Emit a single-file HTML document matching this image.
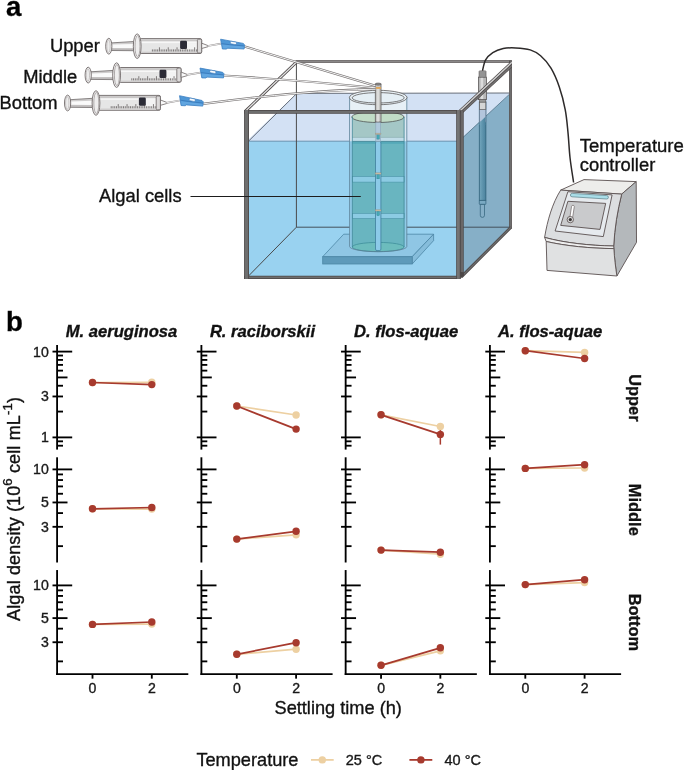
<!DOCTYPE html>
<html lang="en">
<head>
<meta charset="utf-8">
<title>Algal settling experiment</title>
<style>
html,body{margin:0;padding:0;background:#fff;}
body{width:685px;height:770px;overflow:hidden;font-family:'Liberation Sans', sans-serif;}
svg{display:block;}
svg text{font-family:'Liberation Sans', sans-serif;stroke:#151515;stroke-width:0.35px;}
</style>
</head>
<body>
<svg width="685" height="770" viewBox="0 0 685 770">
<rect x="0" y="0" width="685" height="770" fill="#ffffff"/>
<g id="panel-a">
<rect x="246.5" y="141.2" width="212" height="136" fill="#99D2F0"/>
<polygon points="296.4,93.6 509.5,93.0 509.5,94.4 461.0,139.6 459.0,141.2 246.5,141.2" fill="#D3E1F4"/>
<polygon points="460.5,139.6 509.6,94.2 509.6,227.6 460.5,277.0" fill="#86AFC7"/>
<line x1="248" y1="141.2" x2="457" y2="141.2" stroke="#4d7fa0" stroke-width="0.8"/>
<line x1="296.4" y1="93.4" x2="509" y2="93.0" stroke="#59606b" stroke-width="0.9"/>
<line x1="461" y1="139.3" x2="509.3" y2="94.4" stroke="#4f7186" stroke-width="0.8"/>
<line x1="248.5" y1="141.2" x2="296.4" y2="93.8" stroke="#59606b" stroke-width="0.9"/>
<line x1="296.4" y1="62" x2="296.4" y2="227.2" stroke="#4a4a4a" stroke-width="1"/>
<line x1="296.4" y1="227.2" x2="509" y2="227.2" stroke="#44525c" stroke-width="1"/>
<line x1="296.4" y1="227.2" x2="248" y2="276.5" stroke="#4a4a4a" stroke-width="1"/>
<line x1="295.5" y1="61.5" x2="511.8" y2="61.5" stroke="#4b4646" stroke-width="2.7" stroke-linecap="butt"/>
<line x1="295.5" y1="61.5" x2="511.8" y2="61.5" stroke="#8a8888" stroke-width="1.2" stroke-linecap="butt"/>
<line x1="245.2" y1="111.4" x2="296.6" y2="62.0" stroke="#4b4646" stroke-width="3.0" stroke-linecap="butt"/>
<line x1="245.2" y1="111.4" x2="296.6" y2="62.0" stroke="#e4e4e4" stroke-width="1.3" stroke-linecap="butt"/>
<line x1="510.5" y1="60.6" x2="510.5" y2="228.5" stroke="#4b4646" stroke-width="2.7" stroke-linecap="butt"/>
<line x1="510.5" y1="60.6" x2="510.5" y2="228.5" stroke="#6e6e6e" stroke-width="1.2" stroke-linecap="butt"/>
<polygon points="343.7,234.2 433.6,234.2 412.2,256.7 322.7,256.7" fill="#8fc6e4" stroke="#4d87a6" stroke-width="0.8" stroke-linejoin="round"/>
<polygon points="412.2,256.7 433.6,234.2 433.6,240.6 412.2,264.0" fill="#86bddb" stroke="#4d87a6" stroke-width="0.8" stroke-linejoin="round"/>
<rect x="322.7" y="256.7" width="89.5" height="7.3" fill="#5e9aba" stroke="#4d87a6" stroke-width="0.8"/>
<path d="M349.6 96.9 L349.6 246.5 A28.6 5.2 0 0 0 406.8 246.5 L406.8 96.9 Z" fill="#90cbe7"/>
<rect x="349.6" y="96.9" width="57.2" height="44.3" fill="#dbe8f3"/>
<rect x="349.6" y="96.9" width="57.2" height="14" fill="#e7f0f6"/>
<path d="M352.3 141.4 L352.3 247 A25.9 4.6 0 0 0 404.1 247 L404.1 141.4 Z" fill="#69B5C0"/>
<rect x="352.3" y="117" width="51.8" height="20.9" fill="#a4c7c6"/>
<rect x="352.3" y="137.4" width="51.8" height="4.0" fill="#c0dce8"/>
<line x1="352.3" y1="137.4" x2="404.1" y2="137.4" stroke="#86a9ad" stroke-width="0.6"/>
<rect x="352.3" y="141.4" width="51.8" height="2.4" fill="#55a9b8"/><line x1="352.3" y1="141.4" x2="404.1" y2="141.4" stroke="#3d7c8c" stroke-width="0.7"/>
<ellipse cx="378.2" cy="247" rx="25.9" ry="4.6" fill="#6cbcbd" stroke="#3f8f9a" stroke-width="0.8"/>
<rect x="352.3" y="176.6" width="51.8" height="5.5" fill="#8ccbe3" stroke="#4d94a8" stroke-width="0.6"/>
<rect x="352.3" y="213.4" width="51.8" height="5.0" fill="#8ccbe3" stroke="#4d94a8" stroke-width="0.6"/>
<ellipse cx="377.9" cy="117" rx="26.1" ry="5.5" fill="#c1dcc6" stroke="#505555" stroke-width="0.8"/>
<path d="M352.3 117 V247 M404.1 117 V247" stroke="#3f8797" stroke-width="0.8" fill="none"/>
<path d="M349.6 96.9 V246.5 A28.6 5.2 0 0 0 406.8 246.5 V96.9" stroke="#5c7f95" stroke-width="0.8" fill="none"/>
<ellipse cx="378.2" cy="97.5" rx="28.8" ry="7.2" fill="#e9f1f6" stroke="#5c5a5a" stroke-width="0.8"/>
<ellipse cx="378.2" cy="97.8" rx="26.0" ry="5.2" fill="#e5eff5" stroke="#5c5a5a" stroke-width="0.8"/>
<rect x="375.5" y="141.4" width="5.4" height="109.2" rx="1.5" fill="#8ccae8" stroke="#3f7f9c" stroke-width="0.8"/>
<rect x="375.8" y="121" width="4.7" height="20.4" fill="#b0c9dc" stroke="#8aa6b9" stroke-width="0.6"/>
<rect x="376.9" y="134.5" width="2.4" height="4.6" fill="#45a9b6" stroke="#2f7f8c" stroke-width="0.4"/>
<rect x="375.2" y="133.1" width="5.8" height="1.5" fill="#c9b99f" stroke="#7d8d88" stroke-width="0.3"/>
<rect x="376.9" y="174.20000000000002" width="2.4" height="4.6" fill="#45a9b6" stroke="#2f7f8c" stroke-width="0.4"/>
<rect x="375.2" y="172.8" width="5.8" height="1.5" fill="#c9b99f" stroke="#7d8d88" stroke-width="0.3"/>
<rect x="376.9" y="211.0" width="2.4" height="4.6" fill="#45a9b6" stroke="#2f7f8c" stroke-width="0.4"/>
<rect x="375.2" y="209.6" width="5.8" height="1.5" fill="#c9b99f" stroke="#7d8d88" stroke-width="0.3"/>
<rect x="375.3" y="84" width="5.7" height="38" fill="#c6c6c4" stroke="#5d5a5a" stroke-width="0.8"/>
<rect x="377.2" y="89" width="1.6" height="32.5" fill="#e2e2e0"/>
<rect x="375.3" y="87.1" width="5.7" height="1.7" fill="#e3a553"/>
<ellipse cx="378.15" cy="84.1" rx="2.85" ry="1.1" fill="#8b8888" stroke="#5d5a5a" stroke-width="0.6"/>
<defs><linearGradient id="probe" x1="0" y1="0" x2="1" y2="0"><stop offset="0" stop-color="#74a7be"/><stop offset="0.45" stop-color="#5f95ae"/><stop offset="1" stop-color="#4b829d"/></linearGradient></defs>
<rect x="479.3" y="102" width="6.6" height="98.6" fill="url(#probe)" stroke="#2f6079" stroke-width="0.8"/>
<rect x="479.6" y="102" width="6.2" height="20" fill="#b3c5dc" stroke="#6f8299" stroke-width="0.7"/>
<polygon points="479.7,122.2 485.5,116.8 485.5,125.0 479.7,125.0" fill="url(#probe)"/>
<rect x="479.6" y="102" width="6.2" height="7.4" fill="#d6d6d6" stroke="#5d5a5a" stroke-width="0.7"/>
<rect x="479.3" y="200.4" width="6.6" height="4.0" rx="0.6" fill="#7aa9c2" stroke="#2f6079" stroke-width="0.7"/>
<path d="M480.3 204.4 V215.3 A2.1 2.1 0 0 0 484.5 215.3 V204.4 Z" fill="#86afc7" stroke="#2f6079" stroke-width="0.7"/>
<rect x="478.4" y="77.1" width="8.1" height="22.5" fill="#b7b7b7" stroke="#5d5a5a" stroke-width="0.8"/>
<rect x="480.6" y="77.6" width="2.6" height="21.5" fill="#dcdcdc"/>
<rect x="479.4" y="99.6" width="6.4" height="2.5" fill="#9a9a9a" stroke="#5d5a5a" stroke-width="0.6"/>
<clipPath id="cdiag"><rect x="440" y="60.2" width="71.9" height="70"/></clipPath><g clip-path="url(#cdiag)">
<line x1="460.40" y1="112.03" x2="517.71" y2="58.60" stroke="#4b4646" stroke-width="5.0"/>
<line x1="459.62" y1="111.19" x2="516.92" y2="57.75" stroke="#d2d2d2" stroke-width="1.5"/>
<line x1="461.19" y1="112.87" x2="518.49" y2="59.44" stroke="#727070" stroke-width="1.5"/>
</g>
<line x1="461.3" y1="276.9" x2="511.0" y2="227.2" stroke="#4b4646" stroke-width="2.9" stroke-linecap="butt"/>
<line x1="461.3" y1="276.9" x2="511.0" y2="227.2" stroke="#6e6e6e" stroke-width="1.3" stroke-linecap="butt"/>
<rect x="479.1" y="70.9" width="6.9" height="6.2" rx="0.6" fill="#a3a3a3" stroke="#5d5a5a" stroke-width="0.7"/>
<path d="M479.1 73 H486 M479.1 75 H486" stroke="#6b6868" stroke-width="0.5"/>
<line x1="244.2" y1="111.9" x2="460.3" y2="111.9" stroke="#4b4646" stroke-width="3.7" stroke-linecap="butt"/>
<line x1="244.2" y1="111.9" x2="460.3" y2="111.9" stroke="#6e6e6e" stroke-width="2.2" stroke-linecap="butt"/>
<line x1="244.2" y1="277.4" x2="460.3" y2="277.4" stroke="#4b4646" stroke-width="3.2" stroke-linecap="butt"/>
<line x1="244.2" y1="277.4" x2="460.3" y2="277.4" stroke="#6e6e6e" stroke-width="1.8" stroke-linecap="butt"/>
<line x1="246.55" y1="110.0" x2="246.55" y2="278.9" stroke="#4b4646" stroke-width="4.9" stroke-linecap="butt"/>
<line x1="246.55" y1="110.0" x2="246.55" y2="278.9" stroke="#6e6e6e" stroke-width="3.4" stroke-linecap="butt"/>
<line x1="461.9" y1="110.6" x2="461.9" y2="276.2" stroke="#4b4646" stroke-width="3.6" stroke-linecap="butt"/>
<line x1="461.9" y1="110.6" x2="461.9" y2="276.2" stroke="#6a6767" stroke-width="2.3" stroke-linecap="butt"/>
<polygon points="460.2,278.9 460.2,272.0 463.7,272.3 463.7,275.6" fill="#4b4646"/>
<line x1="458.35" y1="110.0" x2="458.35" y2="278.9" stroke="#4b4646" stroke-width="4.3" stroke-linecap="butt"/>
<line x1="458.35" y1="110.0" x2="458.35" y2="278.9" stroke="#747474" stroke-width="2.9" stroke-linecap="butt"/>
<path d="M482.5 70.7 C483.0 68.9 483.9 62.9 485.6 59.9 C487.3 56.9 489.9 54.5 492.8 52.6 C495.7 50.7 499.4 49.3 503.2 48.5 C507.0 47.7 511.2 47.7 515.7 47.9 C520.2 48.1 526.1 48.6 530.2 49.9 C534.4 51.2 537.1 52.8 540.6 55.8 C544.1 58.8 547.9 63.0 551.0 68.2 C554.1 73.4 556.9 80.0 559.3 86.9 C561.7 93.8 563.8 102.1 565.2 109.7 C566.7 117.3 567.2 124.6 568.0 132.6 C568.8 140.6 569.1 149.2 570.0 157.5 C570.9 165.8 573.0 178.3 573.6 182.5" fill="none" stroke="#2d2a2a" stroke-width="1.5"/>
<polygon points="560.7,190.1 584.0,179.6 636.2,181.6 621.7,194.1" fill="#ededeb" stroke="#5a5050" stroke-width="0.9" stroke-linejoin="round"/>
<path d="M621.7 194.1 L636.2 181.6 L636.5 242.3 L616.9 276.0 C615.5 266 614.2 256 613.7 246.3 C614.6 228 617.6 210 621.7 194.1 Z" fill="#b4b8bb" stroke="#5a5050" stroke-width="0.9" stroke-linejoin="round"/>
<path d="M560.7 190.1 L621.7 194.1 C617.6 210 614.6 228 613.7 246.0 C590 245.6 565 243 544.6 237.4 C547.5 220 552.5 203 560.7 190.1 Z" fill="#dcdee0" stroke="#5a5050" stroke-width="0.9" stroke-linejoin="round"/>
<path d="M544.6 237.4 C565 243 590 245.6 613.7 246.0 L613.9 248.6 C590 248.4 566 246 546.2 241.5 Z" fill="#eeeeee" stroke="#5a5050" stroke-width="0.9" stroke-linejoin="round"/>
<path d="M546.2 241.5 C566 246 590 248.4 613.9 248.6 C614.4 258 615.5 267 616.9 276.0 L547.0 270.4 Z" fill="#e0e1e2" stroke="#5a5050" stroke-width="0.9" stroke-linejoin="round"/>
<polygon points="567.9,191.7 612.1,194.9 603.3,236.6 555.1,231.0" fill="#e6eaee" stroke="#5a5050" stroke-width="0.9" stroke-linejoin="round"/>
<polygon points="567.9,201.3 605.7,203.4 600.0,229.4 560.7,225.4" fill="#c9cacc" stroke="#5a5050" stroke-width="0.9" stroke-linejoin="round"/>
<path d="M572.2 193.4 L606.8 195.6 A1.7 1.7 0 0 1 606.6 199 L572 196.8 A1.7 1.7 0 0 1 572.2 193.4 Z" fill="#a9dde8" stroke="#5a7f88" stroke-width="0.7"/>
<path d="M571.6 206.2 A1.4 1.4 0 0 1 574.3 206.5 L572.6 217.6 L569.9 217.2 Z" fill="#ffffff" stroke="#5a5050" stroke-width="0.6"/>
<circle cx="570.3" cy="219.6" r="3.2" fill="#d6d6d6" stroke="#5a5050" stroke-width="0.8"/>
<circle cx="570.3" cy="219.6" r="1.6" fill="#3a3535"/>
<path d="M244.2 46.4 L375.6 85.9" fill="none" stroke="#787474" stroke-width="2.2" stroke-linecap="butt"/>
<path d="M244.2 46.4 L375.6 85.9" fill="none" stroke="#f4f4f4" stroke-width="1.0" stroke-linecap="butt"/>
<path d="M223.4 75.5 Q300 80.2 375.6 87.8" fill="none" stroke="#787474" stroke-width="2.2" stroke-linecap="butt"/>
<path d="M223.4 75.5 Q300 80.2 375.6 87.8" fill="none" stroke="#f4f4f4" stroke-width="1.0" stroke-linecap="butt"/>
<path d="M203.0 103.9 Q304 90.4 375.6 89.2" fill="none" stroke="#787474" stroke-width="2.2" stroke-linecap="butt"/>
<path d="M203.0 103.9 Q304 90.4 375.6 89.2" fill="none" stroke="#f4f4f4" stroke-width="1.0" stroke-linecap="butt"/>
<g transform="translate(0 0)">
<polygon points="111.2,42.9 133.9,41.5 133.9,50.7 111.2,50.5" fill="#cfcdcd" stroke="#6f6969" stroke-width="0.8"/>
<polygon points="111.6,44.6 133.5,43.9 133.5,48.1 111.6,48.0" fill="#fafafa"/>
<line x1="112" y1="49.2" x2="133.5" y2="49.3" stroke="#a9a5a5" stroke-width="0.7"/>
<ellipse cx="108.8" cy="46.2" rx="3.1" ry="7.9" fill="#f6f5f5" stroke="#6f6969" stroke-width="0.9"/>
<ellipse cx="108.5" cy="46.2" rx="1.7" ry="6.4" fill="#ececec" stroke="#aaa5a5" stroke-width="0.6"/>
<rect x="139.5" y="38.6" width="62.2" height="14.9" rx="1.6" fill="#e6e6e6" stroke="#6d6767" stroke-width="0.9"/>
<rect x="141" y="39.3" width="60" height="2.2" fill="#c9c7c7"/>
<rect x="141" y="41.5" width="60" height="1.6" fill="#f7f7f7"/>
<rect x="187" y="43.1" width="11" height="7.8" fill="#f3f3f3"/>
<rect x="141" y="51.7" width="60" height="1.3" fill="#cfcdcd"/>
<rect x="180.1" y="40.8" width="6.9" height="8.2" rx="1.2" fill="#2b2b36"/>
<path d="M152.40 51.5v-2.1 M154.16 51.5v-2.1 M155.92 51.5v-2.1 M157.68 51.5v-2.1 M159.44 51.5v-4.2 M161.20 51.5v-2.1 M162.96 51.5v-2.1 M164.72 51.5v-2.1 M166.48 51.5v-2.1 M168.24 51.5v-4.2 M170.00 51.5v-2.1 M171.76 51.5v-2.1 M173.52 51.5v-2.1 M175.28 51.5v-2.1 M177.04 51.5v-4.2 M178.80 51.5v-2.1 M180.56 51.5v-2.1 M182.32 51.5v-2.1 M184.08 51.5v-2.1 M185.84 51.5v-4.2 M187.60 51.5v-2.1 M189.36 51.5v-2.1 M191.12 51.5v-2.1 M192.88 51.5v-2.1 M194.64 51.5v-4.2 M196.40 51.5v-2.1 M198.16 51.5v-2.1" stroke="#454040" stroke-width="0.65" fill="none"/>
<rect x="197.4" y="39.2" width="4.2" height="13.8" rx="1.2" fill="#dcdada" stroke="#6d6767" stroke-width="0.8"/>
<ellipse cx="137.2" cy="46.2" rx="3.9" ry="12.3" fill="#f7f6f6" stroke="#6f6969" stroke-width="0.9"/>
<ellipse cx="137.5" cy="46.2" rx="2.5" ry="10.6" fill="#efeeee" stroke="#8f8989" stroke-width="0.7"/>
<polygon points="201.7,43.2 208.0,45.6 208.0,46.7 201.7,48.5" fill="#fafafa" stroke="#6d6767" stroke-width="0.8" stroke-linejoin="round"/>
<path d="M207.6 46.0 L221 43.7" fill="none" stroke="#8b8686" stroke-width="1.7" stroke-linecap="butt"/>
<path d="M207.6 46.0 L221 43.7" fill="none" stroke="#f4f4f4" stroke-width="0.9" stroke-linecap="butt"/>
<g transform="rotate(0 232 44)">
<polygon points="220.6,39.2 243.2,43.4 244.5,44.7 244.1,49.0 227.5,48.2 226.6,49.1 222.4,49.0" fill="#4f97d6" stroke="#3b7fc2" stroke-width="0.8" stroke-linejoin="round"/>
<polygon points="222.3,44.6 243.8,46.6 243.7,48.5 227.4,47.6 226.4,48.5 223.0,48.4" fill="#62a6e0"/>
<polyline points="221.4,43.6 229.8,44.7 236.5,45.3 243.9,45.9" fill="none" stroke="#3573b4" stroke-width="0.7"/>
<rect x="230.3" y="41.7" width="6.2" height="2.5" rx="1.2" transform="rotate(10 233.4 43)" fill="#fbfdff" stroke="#3573b4" stroke-width="0.5"/>
</g>
</g>
<g transform="translate(-20.6 28.9)">
<polygon points="111.2,42.9 133.9,41.5 133.9,50.7 111.2,50.5" fill="#cfcdcd" stroke="#6f6969" stroke-width="0.8"/>
<polygon points="111.6,44.6 133.5,43.9 133.5,48.1 111.6,48.0" fill="#fafafa"/>
<line x1="112" y1="49.2" x2="133.5" y2="49.3" stroke="#a9a5a5" stroke-width="0.7"/>
<ellipse cx="108.8" cy="46.2" rx="3.1" ry="7.9" fill="#f6f5f5" stroke="#6f6969" stroke-width="0.9"/>
<ellipse cx="108.5" cy="46.2" rx="1.7" ry="6.4" fill="#ececec" stroke="#aaa5a5" stroke-width="0.6"/>
<rect x="139.5" y="38.6" width="62.2" height="14.9" rx="1.6" fill="#e6e6e6" stroke="#6d6767" stroke-width="0.9"/>
<rect x="141" y="39.3" width="60" height="2.2" fill="#c9c7c7"/>
<rect x="141" y="41.5" width="60" height="1.6" fill="#f7f7f7"/>
<rect x="187" y="43.1" width="11" height="7.8" fill="#f3f3f3"/>
<rect x="141" y="51.7" width="60" height="1.3" fill="#cfcdcd"/>
<rect x="180.1" y="40.8" width="6.9" height="8.2" rx="1.2" fill="#2b2b36"/>
<path d="M152.40 51.5v-2.1 M154.16 51.5v-2.1 M155.92 51.5v-2.1 M157.68 51.5v-2.1 M159.44 51.5v-4.2 M161.20 51.5v-2.1 M162.96 51.5v-2.1 M164.72 51.5v-2.1 M166.48 51.5v-2.1 M168.24 51.5v-4.2 M170.00 51.5v-2.1 M171.76 51.5v-2.1 M173.52 51.5v-2.1 M175.28 51.5v-2.1 M177.04 51.5v-4.2 M178.80 51.5v-2.1 M180.56 51.5v-2.1 M182.32 51.5v-2.1 M184.08 51.5v-2.1 M185.84 51.5v-4.2 M187.60 51.5v-2.1 M189.36 51.5v-2.1 M191.12 51.5v-2.1 M192.88 51.5v-2.1 M194.64 51.5v-4.2 M196.40 51.5v-2.1 M198.16 51.5v-2.1" stroke="#454040" stroke-width="0.65" fill="none"/>
<rect x="197.4" y="39.2" width="4.2" height="13.8" rx="1.2" fill="#dcdada" stroke="#6d6767" stroke-width="0.8"/>
<ellipse cx="137.2" cy="46.2" rx="3.9" ry="12.3" fill="#f7f6f6" stroke="#6f6969" stroke-width="0.9"/>
<ellipse cx="137.5" cy="46.2" rx="2.5" ry="10.6" fill="#efeeee" stroke="#8f8989" stroke-width="0.7"/>
<polygon points="201.7,43.2 208.0,45.6 208.0,46.7 201.7,48.5" fill="#fafafa" stroke="#6d6767" stroke-width="0.8" stroke-linejoin="round"/>
<path d="M207.6 46.0 L221 43.7" fill="none" stroke="#8b8686" stroke-width="1.7" stroke-linecap="butt"/>
<path d="M207.6 46.0 L221 43.7" fill="none" stroke="#f4f4f4" stroke-width="0.9" stroke-linecap="butt"/>
<g transform="rotate(0 232 44)">
<polygon points="220.6,39.2 243.2,43.4 244.5,44.7 244.1,49.0 227.5,48.2 226.6,49.1 222.4,49.0" fill="#4f97d6" stroke="#3b7fc2" stroke-width="0.8" stroke-linejoin="round"/>
<polygon points="222.3,44.6 243.8,46.6 243.7,48.5 227.4,47.6 226.4,48.5 223.0,48.4" fill="#62a6e0"/>
<polyline points="221.4,43.6 229.8,44.7 236.5,45.3 243.9,45.9" fill="none" stroke="#3573b4" stroke-width="0.7"/>
<rect x="230.3" y="41.7" width="6.2" height="2.5" rx="1.2" transform="rotate(10 233.4 43)" fill="#fbfdff" stroke="#3573b4" stroke-width="0.5"/>
</g>
</g>
<g transform="translate(-41.2 56.8)">
<polygon points="111.2,42.9 133.9,41.5 133.9,50.7 111.2,50.5" fill="#cfcdcd" stroke="#6f6969" stroke-width="0.8"/>
<polygon points="111.6,44.6 133.5,43.9 133.5,48.1 111.6,48.0" fill="#fafafa"/>
<line x1="112" y1="49.2" x2="133.5" y2="49.3" stroke="#a9a5a5" stroke-width="0.7"/>
<ellipse cx="108.8" cy="46.2" rx="3.1" ry="7.9" fill="#f6f5f5" stroke="#6f6969" stroke-width="0.9"/>
<ellipse cx="108.5" cy="46.2" rx="1.7" ry="6.4" fill="#ececec" stroke="#aaa5a5" stroke-width="0.6"/>
<rect x="139.5" y="38.6" width="62.2" height="14.9" rx="1.6" fill="#e6e6e6" stroke="#6d6767" stroke-width="0.9"/>
<rect x="141" y="39.3" width="60" height="2.2" fill="#c9c7c7"/>
<rect x="141" y="41.5" width="60" height="1.6" fill="#f7f7f7"/>
<rect x="187" y="43.1" width="11" height="7.8" fill="#f3f3f3"/>
<rect x="141" y="51.7" width="60" height="1.3" fill="#cfcdcd"/>
<rect x="180.1" y="40.8" width="6.9" height="8.2" rx="1.2" fill="#2b2b36"/>
<path d="M152.40 51.5v-2.1 M154.16 51.5v-2.1 M155.92 51.5v-2.1 M157.68 51.5v-2.1 M159.44 51.5v-4.2 M161.20 51.5v-2.1 M162.96 51.5v-2.1 M164.72 51.5v-2.1 M166.48 51.5v-2.1 M168.24 51.5v-4.2 M170.00 51.5v-2.1 M171.76 51.5v-2.1 M173.52 51.5v-2.1 M175.28 51.5v-2.1 M177.04 51.5v-4.2 M178.80 51.5v-2.1 M180.56 51.5v-2.1 M182.32 51.5v-2.1 M184.08 51.5v-2.1 M185.84 51.5v-4.2 M187.60 51.5v-2.1 M189.36 51.5v-2.1 M191.12 51.5v-2.1 M192.88 51.5v-2.1 M194.64 51.5v-4.2 M196.40 51.5v-2.1 M198.16 51.5v-2.1" stroke="#454040" stroke-width="0.65" fill="none"/>
<rect x="197.4" y="39.2" width="4.2" height="13.8" rx="1.2" fill="#dcdada" stroke="#6d6767" stroke-width="0.8"/>
<ellipse cx="137.2" cy="46.2" rx="3.9" ry="12.3" fill="#f7f6f6" stroke="#6f6969" stroke-width="0.9"/>
<ellipse cx="137.5" cy="46.2" rx="2.5" ry="10.6" fill="#efeeee" stroke="#8f8989" stroke-width="0.7"/>
<polygon points="201.7,43.2 208.0,45.6 208.0,46.7 201.7,48.5" fill="#fafafa" stroke="#6d6767" stroke-width="0.8" stroke-linejoin="round"/>
<path d="M207.6 46.0 L221 43.7" fill="none" stroke="#8b8686" stroke-width="1.7" stroke-linecap="butt"/>
<path d="M207.6 46.0 L221 43.7" fill="none" stroke="#f4f4f4" stroke-width="0.9" stroke-linecap="butt"/>
<g transform="rotate(1.5 232 44)">
<polygon points="220.6,39.2 243.2,43.4 244.5,44.7 244.1,49.0 227.5,48.2 226.6,49.1 222.4,49.0" fill="#4f97d6" stroke="#3b7fc2" stroke-width="0.8" stroke-linejoin="round"/>
<polygon points="222.3,44.6 243.8,46.6 243.7,48.5 227.4,47.6 226.4,48.5 223.0,48.4" fill="#62a6e0"/>
<polyline points="221.4,43.6 229.8,44.7 236.5,45.3 243.9,45.9" fill="none" stroke="#3573b4" stroke-width="0.7"/>
<rect x="230.3" y="41.7" width="6.2" height="2.5" rx="1.2" transform="rotate(10 233.4 43)" fill="#fbfdff" stroke="#3573b4" stroke-width="0.5"/>
</g>
</g>
<line x1="190.5" y1="196.5" x2="360.8" y2="196.5" stroke="#1d1d1d" stroke-width="1.1"/>
<text x="99.9" y="51.8" text-anchor="end" font-size="18.35" fill="#111">Upper</text>
<text x="77.3" y="82.6" text-anchor="end" font-size="18.35" fill="#111">Middle</text>
<text x="57.6" y="108.8" text-anchor="end" font-size="18.35" fill="#111">Bottom</text>
<text x="99.0" y="201.8" font-size="18.35" fill="#111">Algal cells</text>
<text x="579.8" y="151.6" font-size="18.55" fill="#111">Temperature</text>
<text x="579.8" y="170.6" font-size="18.35" fill="#111">controller</text>
</g>
<line x1="57.1" y1="345.0" x2="57.1" y2="449.6" stroke="#000" stroke-width="1.85"/>
<line x1="57.1" y1="445.71" x2="63.0" y2="445.71" stroke="#000" stroke-width="1.85"/>
<line x1="57.1" y1="441.33" x2="63.0" y2="441.33" stroke="#000" stroke-width="1.85"/>
<line x1="57.1" y1="437.40" x2="72.2" y2="437.40" stroke="#000" stroke-width="1.85"/>
<line x1="57.1" y1="411.57" x2="63.0" y2="411.57" stroke="#000" stroke-width="1.85"/>
<line x1="57.1" y1="396.46" x2="63.0" y2="396.46" stroke="#000" stroke-width="1.85"/>
<line x1="57.1" y1="385.74" x2="63.0" y2="385.74" stroke="#000" stroke-width="1.85"/>
<line x1="57.1" y1="377.43" x2="67.5" y2="377.43" stroke="#000" stroke-width="1.85"/>
<line x1="57.1" y1="370.63" x2="63.0" y2="370.63" stroke="#000" stroke-width="1.85"/>
<line x1="57.1" y1="364.89" x2="63.0" y2="364.89" stroke="#000" stroke-width="1.85"/>
<line x1="57.1" y1="359.91" x2="63.0" y2="359.91" stroke="#000" stroke-width="1.85"/>
<line x1="57.1" y1="355.53" x2="63.0" y2="355.53" stroke="#000" stroke-width="1.85"/>
<line x1="57.1" y1="351.60" x2="72.2" y2="351.60" stroke="#000" stroke-width="1.85"/>
<line x1="52.5" y1="351.60" x2="57.1" y2="351.60" stroke="#000" stroke-width="1.85"/>
<text x="48.8" y="356.60" text-anchor="end" font-size="14.1" fill="#1a1a1a">10</text>
<line x1="52.5" y1="396.46" x2="57.1" y2="396.46" stroke="#000" stroke-width="1.85"/>
<text x="48.8" y="401.46" text-anchor="end" font-size="14.1" fill="#1a1a1a">3</text>
<line x1="52.5" y1="437.40" x2="57.1" y2="437.40" stroke="#000" stroke-width="1.85"/>
<text x="48.8" y="442.40" text-anchor="end" font-size="14.1" fill="#1a1a1a">1</text>
<line x1="92.5" y1="382.5" x2="151.8" y2="382.3" stroke="#EDD0A2" stroke-width="1.75"/>
<circle cx="92.5" cy="382.5" r="3.7" fill="#EDD0A2"/>
<circle cx="151.8" cy="382.3" r="3.7" fill="#EDD0A2"/>
<line x1="92.5" y1="382.5" x2="151.8" y2="384.6" stroke="#A73A2E" stroke-width="1.75"/>
<circle cx="92.5" cy="382.5" r="3.7" fill="#A73A2E"/>
<circle cx="151.8" cy="384.6" r="3.7" fill="#A73A2E"/>
<line x1="201.4" y1="345.0" x2="201.4" y2="449.6" stroke="#000" stroke-width="1.85"/>
<line x1="201.4" y1="445.71" x2="207.3" y2="445.71" stroke="#000" stroke-width="1.85"/>
<line x1="201.4" y1="441.33" x2="207.3" y2="441.33" stroke="#000" stroke-width="1.85"/>
<line x1="201.4" y1="437.40" x2="216.5" y2="437.40" stroke="#000" stroke-width="1.85"/>
<line x1="201.4" y1="411.57" x2="207.3" y2="411.57" stroke="#000" stroke-width="1.85"/>
<line x1="201.4" y1="396.46" x2="207.3" y2="396.46" stroke="#000" stroke-width="1.85"/>
<line x1="201.4" y1="385.74" x2="207.3" y2="385.74" stroke="#000" stroke-width="1.85"/>
<line x1="201.4" y1="377.43" x2="211.8" y2="377.43" stroke="#000" stroke-width="1.85"/>
<line x1="201.4" y1="370.63" x2="207.3" y2="370.63" stroke="#000" stroke-width="1.85"/>
<line x1="201.4" y1="364.89" x2="207.3" y2="364.89" stroke="#000" stroke-width="1.85"/>
<line x1="201.4" y1="359.91" x2="207.3" y2="359.91" stroke="#000" stroke-width="1.85"/>
<line x1="201.4" y1="355.53" x2="207.3" y2="355.53" stroke="#000" stroke-width="1.85"/>
<line x1="201.4" y1="351.60" x2="216.5" y2="351.60" stroke="#000" stroke-width="1.85"/>
<line x1="196.8" y1="351.60" x2="201.4" y2="351.60" stroke="#000" stroke-width="1.85"/>
<line x1="196.8" y1="396.46" x2="201.4" y2="396.46" stroke="#000" stroke-width="1.85"/>
<line x1="196.8" y1="437.40" x2="201.4" y2="437.40" stroke="#000" stroke-width="1.85"/>
<line x1="236.8" y1="406.0" x2="296.1" y2="415.0" stroke="#EDD0A2" stroke-width="1.75"/>
<circle cx="236.8" cy="406.0" r="3.7" fill="#EDD0A2"/>
<circle cx="296.1" cy="415.0" r="3.7" fill="#EDD0A2"/>
<line x1="236.8" y1="406.0" x2="296.1" y2="429.1" stroke="#A73A2E" stroke-width="1.75"/>
<circle cx="236.8" cy="406.0" r="3.7" fill="#A73A2E"/>
<circle cx="296.1" cy="429.1" r="3.7" fill="#A73A2E"/>
<line x1="345.65" y1="345.0" x2="345.65" y2="449.6" stroke="#000" stroke-width="1.85"/>
<line x1="345.65" y1="445.71" x2="351.54999999999995" y2="445.71" stroke="#000" stroke-width="1.85"/>
<line x1="345.65" y1="441.33" x2="351.54999999999995" y2="441.33" stroke="#000" stroke-width="1.85"/>
<line x1="345.65" y1="437.40" x2="360.75" y2="437.40" stroke="#000" stroke-width="1.85"/>
<line x1="345.65" y1="411.57" x2="351.54999999999995" y2="411.57" stroke="#000" stroke-width="1.85"/>
<line x1="345.65" y1="396.46" x2="351.54999999999995" y2="396.46" stroke="#000" stroke-width="1.85"/>
<line x1="345.65" y1="385.74" x2="351.54999999999995" y2="385.74" stroke="#000" stroke-width="1.85"/>
<line x1="345.65" y1="377.43" x2="356.04999999999995" y2="377.43" stroke="#000" stroke-width="1.85"/>
<line x1="345.65" y1="370.63" x2="351.54999999999995" y2="370.63" stroke="#000" stroke-width="1.85"/>
<line x1="345.65" y1="364.89" x2="351.54999999999995" y2="364.89" stroke="#000" stroke-width="1.85"/>
<line x1="345.65" y1="359.91" x2="351.54999999999995" y2="359.91" stroke="#000" stroke-width="1.85"/>
<line x1="345.65" y1="355.53" x2="351.54999999999995" y2="355.53" stroke="#000" stroke-width="1.85"/>
<line x1="345.65" y1="351.60" x2="360.75" y2="351.60" stroke="#000" stroke-width="1.85"/>
<line x1="341.04999999999995" y1="351.60" x2="345.65" y2="351.60" stroke="#000" stroke-width="1.85"/>
<line x1="341.04999999999995" y1="396.46" x2="345.65" y2="396.46" stroke="#000" stroke-width="1.85"/>
<line x1="341.04999999999995" y1="437.40" x2="345.65" y2="437.40" stroke="#000" stroke-width="1.85"/>
<line x1="440.34999999999997" y1="426.5" x2="440.34999999999997" y2="444.6" stroke="#A73A2E" stroke-width="1.5"/>
<line x1="381.04999999999995" y1="414.8" x2="440.34999999999997" y2="426.5" stroke="#EDD0A2" stroke-width="1.75"/>
<circle cx="381.04999999999995" cy="414.8" r="3.7" fill="#EDD0A2"/>
<circle cx="440.34999999999997" cy="426.5" r="3.7" fill="#EDD0A2"/>
<line x1="381.04999999999995" y1="414.8" x2="440.34999999999997" y2="434.4" stroke="#A73A2E" stroke-width="1.75"/>
<circle cx="381.04999999999995" cy="414.8" r="3.7" fill="#A73A2E"/>
<circle cx="440.34999999999997" cy="434.4" r="3.7" fill="#A73A2E"/>
<line x1="489.9" y1="345.0" x2="489.9" y2="449.6" stroke="#000" stroke-width="1.85"/>
<line x1="489.9" y1="445.71" x2="495.79999999999995" y2="445.71" stroke="#000" stroke-width="1.85"/>
<line x1="489.9" y1="441.33" x2="495.79999999999995" y2="441.33" stroke="#000" stroke-width="1.85"/>
<line x1="489.9" y1="437.40" x2="505.0" y2="437.40" stroke="#000" stroke-width="1.85"/>
<line x1="489.9" y1="411.57" x2="495.79999999999995" y2="411.57" stroke="#000" stroke-width="1.85"/>
<line x1="489.9" y1="396.46" x2="495.79999999999995" y2="396.46" stroke="#000" stroke-width="1.85"/>
<line x1="489.9" y1="385.74" x2="495.79999999999995" y2="385.74" stroke="#000" stroke-width="1.85"/>
<line x1="489.9" y1="377.43" x2="500.29999999999995" y2="377.43" stroke="#000" stroke-width="1.85"/>
<line x1="489.9" y1="370.63" x2="495.79999999999995" y2="370.63" stroke="#000" stroke-width="1.85"/>
<line x1="489.9" y1="364.89" x2="495.79999999999995" y2="364.89" stroke="#000" stroke-width="1.85"/>
<line x1="489.9" y1="359.91" x2="495.79999999999995" y2="359.91" stroke="#000" stroke-width="1.85"/>
<line x1="489.9" y1="355.53" x2="495.79999999999995" y2="355.53" stroke="#000" stroke-width="1.85"/>
<line x1="489.9" y1="351.60" x2="505.0" y2="351.60" stroke="#000" stroke-width="1.85"/>
<line x1="485.29999999999995" y1="351.60" x2="489.9" y2="351.60" stroke="#000" stroke-width="1.85"/>
<line x1="485.29999999999995" y1="396.46" x2="489.9" y2="396.46" stroke="#000" stroke-width="1.85"/>
<line x1="485.29999999999995" y1="437.40" x2="489.9" y2="437.40" stroke="#000" stroke-width="1.85"/>
<line x1="525.3" y1="350.7" x2="584.6" y2="352.4" stroke="#EDD0A2" stroke-width="1.75"/>
<circle cx="525.3" cy="350.7" r="3.7" fill="#EDD0A2"/>
<circle cx="584.6" cy="352.4" r="3.7" fill="#EDD0A2"/>
<line x1="525.3" y1="350.7" x2="584.6" y2="358.5" stroke="#A73A2E" stroke-width="1.75"/>
<circle cx="525.3" cy="350.7" r="3.7" fill="#A73A2E"/>
<circle cx="584.6" cy="358.5" r="3.7" fill="#A73A2E"/>
<line x1="57.1" y1="457.3" x2="57.1" y2="562.5" stroke="#000" stroke-width="1.85"/>
<line x1="57.1" y1="546.15" x2="63.0" y2="546.15" stroke="#000" stroke-width="1.85"/>
<line x1="57.1" y1="526.81" x2="63.0" y2="526.81" stroke="#000" stroke-width="1.85"/>
<line x1="57.1" y1="513.09" x2="63.0" y2="513.09" stroke="#000" stroke-width="1.85"/>
<line x1="57.1" y1="502.45" x2="67.5" y2="502.45" stroke="#000" stroke-width="1.85"/>
<line x1="57.1" y1="493.76" x2="63.0" y2="493.76" stroke="#000" stroke-width="1.85"/>
<line x1="57.1" y1="486.41" x2="63.0" y2="486.41" stroke="#000" stroke-width="1.85"/>
<line x1="57.1" y1="480.04" x2="63.0" y2="480.04" stroke="#000" stroke-width="1.85"/>
<line x1="57.1" y1="474.42" x2="63.0" y2="474.42" stroke="#000" stroke-width="1.85"/>
<line x1="57.1" y1="469.40" x2="72.2" y2="469.40" stroke="#000" stroke-width="1.85"/>
<line x1="52.5" y1="469.40" x2="57.1" y2="469.40" stroke="#000" stroke-width="1.85"/>
<text x="48.8" y="474.40" text-anchor="end" font-size="14.1" fill="#1a1a1a">10</text>
<line x1="52.5" y1="502.45" x2="57.1" y2="502.45" stroke="#000" stroke-width="1.85"/>
<text x="48.8" y="507.45" text-anchor="end" font-size="14.1" fill="#1a1a1a">5</text>
<line x1="52.5" y1="526.81" x2="57.1" y2="526.81" stroke="#000" stroke-width="1.85"/>
<text x="48.8" y="531.81" text-anchor="end" font-size="14.1" fill="#1a1a1a">3</text>
<line x1="92.5" y1="508.8" x2="151.8" y2="509.1" stroke="#EDD0A2" stroke-width="1.75"/>
<circle cx="92.5" cy="508.8" r="3.7" fill="#EDD0A2"/>
<circle cx="151.8" cy="509.1" r="3.7" fill="#EDD0A2"/>
<line x1="92.5" y1="508.8" x2="151.8" y2="507.5" stroke="#A73A2E" stroke-width="1.75"/>
<circle cx="92.5" cy="508.8" r="3.7" fill="#A73A2E"/>
<circle cx="151.8" cy="507.5" r="3.7" fill="#A73A2E"/>
<line x1="201.4" y1="457.3" x2="201.4" y2="562.5" stroke="#000" stroke-width="1.85"/>
<line x1="201.4" y1="546.15" x2="207.3" y2="546.15" stroke="#000" stroke-width="1.85"/>
<line x1="201.4" y1="526.81" x2="207.3" y2="526.81" stroke="#000" stroke-width="1.85"/>
<line x1="201.4" y1="513.09" x2="207.3" y2="513.09" stroke="#000" stroke-width="1.85"/>
<line x1="201.4" y1="502.45" x2="211.8" y2="502.45" stroke="#000" stroke-width="1.85"/>
<line x1="201.4" y1="493.76" x2="207.3" y2="493.76" stroke="#000" stroke-width="1.85"/>
<line x1="201.4" y1="486.41" x2="207.3" y2="486.41" stroke="#000" stroke-width="1.85"/>
<line x1="201.4" y1="480.04" x2="207.3" y2="480.04" stroke="#000" stroke-width="1.85"/>
<line x1="201.4" y1="474.42" x2="207.3" y2="474.42" stroke="#000" stroke-width="1.85"/>
<line x1="201.4" y1="469.40" x2="216.5" y2="469.40" stroke="#000" stroke-width="1.85"/>
<line x1="196.8" y1="469.40" x2="201.4" y2="469.40" stroke="#000" stroke-width="1.85"/>
<line x1="196.8" y1="502.45" x2="201.4" y2="502.45" stroke="#000" stroke-width="1.85"/>
<line x1="196.8" y1="526.81" x2="201.4" y2="526.81" stroke="#000" stroke-width="1.85"/>
<line x1="236.8" y1="539.1" x2="296.1" y2="534.8" stroke="#EDD0A2" stroke-width="1.75"/>
<circle cx="236.8" cy="539.1" r="3.7" fill="#EDD0A2"/>
<circle cx="296.1" cy="534.8" r="3.7" fill="#EDD0A2"/>
<line x1="236.8" y1="539.1" x2="296.1" y2="531.3" stroke="#A73A2E" stroke-width="1.75"/>
<circle cx="236.8" cy="539.1" r="3.7" fill="#A73A2E"/>
<circle cx="296.1" cy="531.3" r="3.7" fill="#A73A2E"/>
<line x1="345.65" y1="457.3" x2="345.65" y2="562.5" stroke="#000" stroke-width="1.85"/>
<line x1="345.65" y1="546.15" x2="351.54999999999995" y2="546.15" stroke="#000" stroke-width="1.85"/>
<line x1="345.65" y1="526.81" x2="351.54999999999995" y2="526.81" stroke="#000" stroke-width="1.85"/>
<line x1="345.65" y1="513.09" x2="351.54999999999995" y2="513.09" stroke="#000" stroke-width="1.85"/>
<line x1="345.65" y1="502.45" x2="356.04999999999995" y2="502.45" stroke="#000" stroke-width="1.85"/>
<line x1="345.65" y1="493.76" x2="351.54999999999995" y2="493.76" stroke="#000" stroke-width="1.85"/>
<line x1="345.65" y1="486.41" x2="351.54999999999995" y2="486.41" stroke="#000" stroke-width="1.85"/>
<line x1="345.65" y1="480.04" x2="351.54999999999995" y2="480.04" stroke="#000" stroke-width="1.85"/>
<line x1="345.65" y1="474.42" x2="351.54999999999995" y2="474.42" stroke="#000" stroke-width="1.85"/>
<line x1="345.65" y1="469.40" x2="360.75" y2="469.40" stroke="#000" stroke-width="1.85"/>
<line x1="341.04999999999995" y1="469.40" x2="345.65" y2="469.40" stroke="#000" stroke-width="1.85"/>
<line x1="341.04999999999995" y1="502.45" x2="345.65" y2="502.45" stroke="#000" stroke-width="1.85"/>
<line x1="341.04999999999995" y1="526.81" x2="345.65" y2="526.81" stroke="#000" stroke-width="1.85"/>
<line x1="381.04999999999995" y1="550.1" x2="440.34999999999997" y2="554.2" stroke="#EDD0A2" stroke-width="1.75"/>
<circle cx="381.04999999999995" cy="550.1" r="3.7" fill="#EDD0A2"/>
<circle cx="440.34999999999997" cy="554.2" r="3.7" fill="#EDD0A2"/>
<line x1="381.04999999999995" y1="550.1" x2="440.34999999999997" y2="552.2" stroke="#A73A2E" stroke-width="1.75"/>
<circle cx="381.04999999999995" cy="550.1" r="3.7" fill="#A73A2E"/>
<circle cx="440.34999999999997" cy="552.2" r="3.7" fill="#A73A2E"/>
<line x1="489.9" y1="457.3" x2="489.9" y2="562.5" stroke="#000" stroke-width="1.85"/>
<line x1="489.9" y1="546.15" x2="495.79999999999995" y2="546.15" stroke="#000" stroke-width="1.85"/>
<line x1="489.9" y1="526.81" x2="495.79999999999995" y2="526.81" stroke="#000" stroke-width="1.85"/>
<line x1="489.9" y1="513.09" x2="495.79999999999995" y2="513.09" stroke="#000" stroke-width="1.85"/>
<line x1="489.9" y1="502.45" x2="500.29999999999995" y2="502.45" stroke="#000" stroke-width="1.85"/>
<line x1="489.9" y1="493.76" x2="495.79999999999995" y2="493.76" stroke="#000" stroke-width="1.85"/>
<line x1="489.9" y1="486.41" x2="495.79999999999995" y2="486.41" stroke="#000" stroke-width="1.85"/>
<line x1="489.9" y1="480.04" x2="495.79999999999995" y2="480.04" stroke="#000" stroke-width="1.85"/>
<line x1="489.9" y1="474.42" x2="495.79999999999995" y2="474.42" stroke="#000" stroke-width="1.85"/>
<line x1="489.9" y1="469.40" x2="505.0" y2="469.40" stroke="#000" stroke-width="1.85"/>
<line x1="485.29999999999995" y1="469.40" x2="489.9" y2="469.40" stroke="#000" stroke-width="1.85"/>
<line x1="485.29999999999995" y1="502.45" x2="489.9" y2="502.45" stroke="#000" stroke-width="1.85"/>
<line x1="485.29999999999995" y1="526.81" x2="489.9" y2="526.81" stroke="#000" stroke-width="1.85"/>
<line x1="525.3" y1="468.4" x2="584.6" y2="468.0" stroke="#EDD0A2" stroke-width="1.75"/>
<circle cx="525.3" cy="468.4" r="3.7" fill="#EDD0A2"/>
<circle cx="584.6" cy="468.0" r="3.7" fill="#EDD0A2"/>
<line x1="525.3" y1="468.4" x2="584.6" y2="464.7" stroke="#A73A2E" stroke-width="1.75"/>
<circle cx="525.3" cy="468.4" r="3.7" fill="#A73A2E"/>
<circle cx="584.6" cy="464.7" r="3.7" fill="#A73A2E"/>
<line x1="57.1" y1="570.05" x2="57.1" y2="674.9749999999999" stroke="#000" stroke-width="1.85"/>
<line x1="56.175000000000004" y1="674.05" x2="188.29999999999998" y2="674.05" stroke="#000" stroke-width="1.85"/>
<line x1="92.5" y1="674.05" x2="92.5" y2="678.65" stroke="#000" stroke-width="1.85"/>
<line x1="151.8" y1="674.05" x2="151.8" y2="678.65" stroke="#000" stroke-width="1.85"/>
<line x1="57.1" y1="661.38" x2="63.0" y2="661.38" stroke="#000" stroke-width="1.85"/>
<line x1="57.1" y1="642.24" x2="63.0" y2="642.24" stroke="#000" stroke-width="1.85"/>
<line x1="57.1" y1="628.66" x2="63.0" y2="628.66" stroke="#000" stroke-width="1.85"/>
<line x1="57.1" y1="618.12" x2="67.5" y2="618.12" stroke="#000" stroke-width="1.85"/>
<line x1="57.1" y1="609.51" x2="63.0" y2="609.51" stroke="#000" stroke-width="1.85"/>
<line x1="57.1" y1="602.24" x2="63.0" y2="602.24" stroke="#000" stroke-width="1.85"/>
<line x1="57.1" y1="595.93" x2="63.0" y2="595.93" stroke="#000" stroke-width="1.85"/>
<line x1="57.1" y1="590.37" x2="63.0" y2="590.37" stroke="#000" stroke-width="1.85"/>
<line x1="57.1" y1="585.40" x2="72.2" y2="585.40" stroke="#000" stroke-width="1.85"/>
<line x1="52.5" y1="585.40" x2="57.1" y2="585.40" stroke="#000" stroke-width="1.85"/>
<text x="48.8" y="590.40" text-anchor="end" font-size="14.1" fill="#1a1a1a">10</text>
<line x1="52.5" y1="618.12" x2="57.1" y2="618.12" stroke="#000" stroke-width="1.85"/>
<text x="48.8" y="623.12" text-anchor="end" font-size="14.1" fill="#1a1a1a">5</text>
<line x1="52.5" y1="642.24" x2="57.1" y2="642.24" stroke="#000" stroke-width="1.85"/>
<text x="48.8" y="647.24" text-anchor="end" font-size="14.1" fill="#1a1a1a">3</text>
<line x1="92.5" y1="624.4" x2="151.8" y2="624.1" stroke="#EDD0A2" stroke-width="1.75"/>
<circle cx="92.5" cy="624.4" r="3.7" fill="#EDD0A2"/>
<circle cx="151.8" cy="624.1" r="3.7" fill="#EDD0A2"/>
<line x1="92.5" y1="624.4" x2="151.8" y2="622.0" stroke="#A73A2E" stroke-width="1.75"/>
<circle cx="92.5" cy="624.4" r="3.7" fill="#A73A2E"/>
<circle cx="151.8" cy="622.0" r="3.7" fill="#A73A2E"/>
<line x1="201.4" y1="570.05" x2="201.4" y2="674.9749999999999" stroke="#000" stroke-width="1.85"/>
<line x1="200.475" y1="674.05" x2="332.6" y2="674.05" stroke="#000" stroke-width="1.85"/>
<line x1="236.8" y1="674.05" x2="236.8" y2="678.65" stroke="#000" stroke-width="1.85"/>
<line x1="296.1" y1="674.05" x2="296.1" y2="678.65" stroke="#000" stroke-width="1.85"/>
<line x1="201.4" y1="661.38" x2="207.3" y2="661.38" stroke="#000" stroke-width="1.85"/>
<line x1="201.4" y1="642.24" x2="207.3" y2="642.24" stroke="#000" stroke-width="1.85"/>
<line x1="201.4" y1="628.66" x2="207.3" y2="628.66" stroke="#000" stroke-width="1.85"/>
<line x1="201.4" y1="618.12" x2="211.8" y2="618.12" stroke="#000" stroke-width="1.85"/>
<line x1="201.4" y1="609.51" x2="207.3" y2="609.51" stroke="#000" stroke-width="1.85"/>
<line x1="201.4" y1="602.24" x2="207.3" y2="602.24" stroke="#000" stroke-width="1.85"/>
<line x1="201.4" y1="595.93" x2="207.3" y2="595.93" stroke="#000" stroke-width="1.85"/>
<line x1="201.4" y1="590.37" x2="207.3" y2="590.37" stroke="#000" stroke-width="1.85"/>
<line x1="201.4" y1="585.40" x2="216.5" y2="585.40" stroke="#000" stroke-width="1.85"/>
<line x1="196.8" y1="585.40" x2="201.4" y2="585.40" stroke="#000" stroke-width="1.85"/>
<line x1="196.8" y1="618.12" x2="201.4" y2="618.12" stroke="#000" stroke-width="1.85"/>
<line x1="196.8" y1="642.24" x2="201.4" y2="642.24" stroke="#000" stroke-width="1.85"/>
<line x1="236.8" y1="654.3" x2="296.1" y2="649.2" stroke="#EDD0A2" stroke-width="1.75"/>
<circle cx="236.8" cy="654.3" r="3.7" fill="#EDD0A2"/>
<circle cx="296.1" cy="649.2" r="3.7" fill="#EDD0A2"/>
<line x1="236.8" y1="654.3" x2="296.1" y2="642.7" stroke="#A73A2E" stroke-width="1.75"/>
<circle cx="236.8" cy="654.3" r="3.7" fill="#A73A2E"/>
<circle cx="296.1" cy="642.7" r="3.7" fill="#A73A2E"/>
<line x1="345.65" y1="570.05" x2="345.65" y2="674.9749999999999" stroke="#000" stroke-width="1.85"/>
<line x1="344.72499999999997" y1="674.05" x2="476.84999999999997" y2="674.05" stroke="#000" stroke-width="1.85"/>
<line x1="381.04999999999995" y1="674.05" x2="381.04999999999995" y2="678.65" stroke="#000" stroke-width="1.85"/>
<line x1="440.34999999999997" y1="674.05" x2="440.34999999999997" y2="678.65" stroke="#000" stroke-width="1.85"/>
<line x1="345.65" y1="661.38" x2="351.54999999999995" y2="661.38" stroke="#000" stroke-width="1.85"/>
<line x1="345.65" y1="642.24" x2="351.54999999999995" y2="642.24" stroke="#000" stroke-width="1.85"/>
<line x1="345.65" y1="628.66" x2="351.54999999999995" y2="628.66" stroke="#000" stroke-width="1.85"/>
<line x1="345.65" y1="618.12" x2="356.04999999999995" y2="618.12" stroke="#000" stroke-width="1.85"/>
<line x1="345.65" y1="609.51" x2="351.54999999999995" y2="609.51" stroke="#000" stroke-width="1.85"/>
<line x1="345.65" y1="602.24" x2="351.54999999999995" y2="602.24" stroke="#000" stroke-width="1.85"/>
<line x1="345.65" y1="595.93" x2="351.54999999999995" y2="595.93" stroke="#000" stroke-width="1.85"/>
<line x1="345.65" y1="590.37" x2="351.54999999999995" y2="590.37" stroke="#000" stroke-width="1.85"/>
<line x1="345.65" y1="585.40" x2="360.75" y2="585.40" stroke="#000" stroke-width="1.85"/>
<line x1="341.04999999999995" y1="585.40" x2="345.65" y2="585.40" stroke="#000" stroke-width="1.85"/>
<line x1="341.04999999999995" y1="618.12" x2="345.65" y2="618.12" stroke="#000" stroke-width="1.85"/>
<line x1="341.04999999999995" y1="642.24" x2="345.65" y2="642.24" stroke="#000" stroke-width="1.85"/>
<line x1="381.04999999999995" y1="665.3" x2="440.34999999999997" y2="650.8" stroke="#EDD0A2" stroke-width="1.75"/>
<circle cx="381.04999999999995" cy="665.3" r="3.7" fill="#EDD0A2"/>
<circle cx="440.34999999999997" cy="650.8" r="3.7" fill="#EDD0A2"/>
<line x1="381.04999999999995" y1="665.3" x2="440.34999999999997" y2="647.8" stroke="#A73A2E" stroke-width="1.75"/>
<circle cx="381.04999999999995" cy="665.3" r="3.7" fill="#A73A2E"/>
<circle cx="440.34999999999997" cy="647.8" r="3.7" fill="#A73A2E"/>
<line x1="489.9" y1="570.05" x2="489.9" y2="674.9749999999999" stroke="#000" stroke-width="1.85"/>
<line x1="488.97499999999997" y1="674.05" x2="621.0999999999999" y2="674.05" stroke="#000" stroke-width="1.85"/>
<line x1="525.3" y1="674.05" x2="525.3" y2="678.65" stroke="#000" stroke-width="1.85"/>
<line x1="584.6" y1="674.05" x2="584.6" y2="678.65" stroke="#000" stroke-width="1.85"/>
<line x1="489.9" y1="661.38" x2="495.79999999999995" y2="661.38" stroke="#000" stroke-width="1.85"/>
<line x1="489.9" y1="642.24" x2="495.79999999999995" y2="642.24" stroke="#000" stroke-width="1.85"/>
<line x1="489.9" y1="628.66" x2="495.79999999999995" y2="628.66" stroke="#000" stroke-width="1.85"/>
<line x1="489.9" y1="618.12" x2="500.29999999999995" y2="618.12" stroke="#000" stroke-width="1.85"/>
<line x1="489.9" y1="609.51" x2="495.79999999999995" y2="609.51" stroke="#000" stroke-width="1.85"/>
<line x1="489.9" y1="602.24" x2="495.79999999999995" y2="602.24" stroke="#000" stroke-width="1.85"/>
<line x1="489.9" y1="595.93" x2="495.79999999999995" y2="595.93" stroke="#000" stroke-width="1.85"/>
<line x1="489.9" y1="590.37" x2="495.79999999999995" y2="590.37" stroke="#000" stroke-width="1.85"/>
<line x1="489.9" y1="585.40" x2="505.0" y2="585.40" stroke="#000" stroke-width="1.85"/>
<line x1="485.29999999999995" y1="585.40" x2="489.9" y2="585.40" stroke="#000" stroke-width="1.85"/>
<line x1="485.29999999999995" y1="618.12" x2="489.9" y2="618.12" stroke="#000" stroke-width="1.85"/>
<line x1="485.29999999999995" y1="642.24" x2="489.9" y2="642.24" stroke="#000" stroke-width="1.85"/>
<line x1="525.3" y1="584.6" x2="584.6" y2="582.6" stroke="#EDD0A2" stroke-width="1.75"/>
<circle cx="525.3" cy="584.6" r="3.7" fill="#EDD0A2"/>
<circle cx="584.6" cy="582.6" r="3.7" fill="#EDD0A2"/>
<line x1="525.3" y1="584.6" x2="584.6" y2="579.7" stroke="#A73A2E" stroke-width="1.75"/>
<circle cx="525.3" cy="584.6" r="3.7" fill="#A73A2E"/>
<circle cx="584.6" cy="579.7" r="3.7" fill="#A73A2E"/>
<text x="92.5" y="692.8" text-anchor="middle" font-size="14.1" fill="#1a1a1a">0</text>
<text x="151.8" y="692.8" text-anchor="middle" font-size="14.1" fill="#1a1a1a">2</text>
<text x="236.8" y="692.8" text-anchor="middle" font-size="14.1" fill="#1a1a1a">0</text>
<text x="296.1" y="692.8" text-anchor="middle" font-size="14.1" fill="#1a1a1a">2</text>
<text x="381.04999999999995" y="692.8" text-anchor="middle" font-size="14.1" fill="#1a1a1a">0</text>
<text x="440.34999999999997" y="692.8" text-anchor="middle" font-size="14.1" fill="#1a1a1a">2</text>
<text x="525.3" y="692.8" text-anchor="middle" font-size="14.1" fill="#1a1a1a">0</text>
<text x="584.6" y="692.8" text-anchor="middle" font-size="14.1" fill="#1a1a1a">2</text>
<text x="65.7" y="337.1" font-size="16.6" font-weight="bold" font-style="italic" fill="#111">M. aeruginosa</text>
<text x="209.9" y="337.1" font-size="16.6" font-weight="bold" font-style="italic" fill="#111">R. raciborskii</text>
<text x="354.0" y="337.1" font-size="16.6" font-weight="bold" font-style="italic" fill="#111">D. flos-aquae</text>
<text x="498.1" y="337.1" font-size="16.6" font-weight="bold" font-style="italic" fill="#111">A. flos-aquae</text>
<text transform="translate(628.8 397.9) rotate(90)" text-anchor="middle" font-size="16.4" font-weight="bold" fill="#111">Upper</text>
<text transform="translate(628.8 509.8) rotate(90)" text-anchor="middle" font-size="16.4" font-weight="bold" fill="#111">Middle</text>
<text transform="translate(628.8 622.3) rotate(90)" text-anchor="middle" font-size="16.4" font-weight="bold" fill="#111">Bottom</text>
<text transform="translate(19.9 620.9) rotate(-90)" font-size="18" fill="#111" textLength="223.8" lengthAdjust="spacing">Algal density (10<tspan font-size="13.2" dy="-8.0">6</tspan><tspan dy="8.0"> cell mL</tspan><tspan font-size="13.2" dy="-8.0">-1</tspan><tspan dy="8.0">)</tspan></text>
<text x="338.2" y="713.5" text-anchor="middle" font-size="18.2" fill="#111">Settling time (h)</text>
<text x="196.4" y="766.2" font-size="18.2" fill="#111">Temperature</text>
<line x1="311" y1="759.9" x2="333.7" y2="759.9" stroke="#EDD0A2" stroke-width="1.75"/><circle cx="322.3" cy="759.9" r="3.7" fill="#EDD0A2"/>
<text x="345.8" y="765.0" font-size="14.5" fill="#1a1a1a">25 °C</text>
<line x1="409.4" y1="759.9" x2="432.3" y2="759.9" stroke="#A73A2E" stroke-width="1.75"/><circle cx="420.9" cy="759.9" r="3.7" fill="#A73A2E"/>
<text x="444.5" y="765.0" font-size="14.5" fill="#1a1a1a">40 °C</text>
<text x="5.9" y="15.6" font-size="27.6" font-weight="bold" fill="#000">a</text>
<text x="5.9" y="331.3" font-size="27.6" font-weight="bold" fill="#000">b</text>
</svg>
</body>
</html>
